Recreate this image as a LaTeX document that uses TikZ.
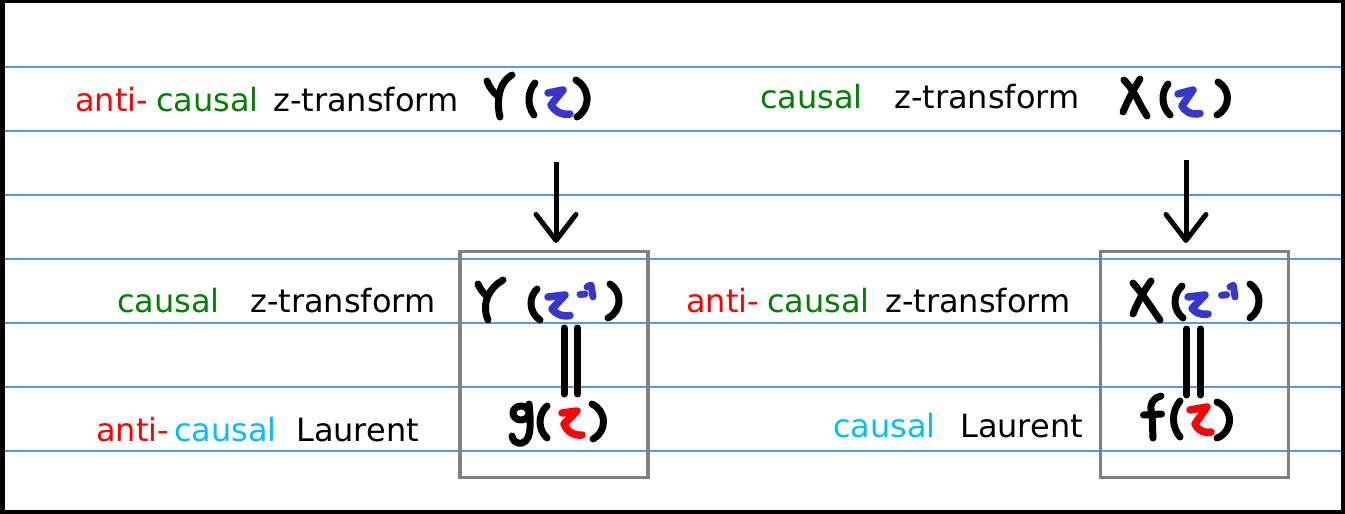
\documentclass[tikz,border=0pt]{standalone}
\usepackage{fontspec}
\newfontfamily\notefont{DejaVu Sans}
\usetikzlibrary{arrows.meta, hobby}

\definecolor{rulecol}{RGB}{90,150,230}
\definecolor{pengreen}{RGB}{0,128,0}
\definecolor{penred}{RGB}{255,0,0}
\definecolor{pencyan}{RGB}{0,190,255}
\definecolor{penblue}{RGB}{55,55,205}
\definecolor{boxgray}{RGB}{128,128,128}

\tikzset{
	word/.style={anchor=base west, inner sep=0pt, font=\notefont\fontsize{32}{38}\selectfont},
	pen/.style={line width=7pt, line cap=round, line join=round},
	zpen/.style={pen, line width=7.5pt},
	ruling/.style={rulecol, line width=1.4pt},
	sumbox/.style={draw=boxgray, line width=3.5pt, minimum width=187.7pt, minimum height=226pt, inner sep=0pt},
	penarrow/.style={line width=5pt, -{Straight Barb[length=26pt, width=40pt, round]}}
}

\begin{document}
\begin{tikzpicture}[x=1pt, y=-1pt]
				\useasboundingbox (0,0) rectangle (1345,514);
				\fill [black] (0,0) rectangle (1345,514);
				\fill [white] (5,3) rectangle (1341,510);
				\foreach \y in {67,131,...,451}
					\draw [ruling] (5,\y) -- (1341,\y);
				
				% left column
				\node [word, penred] (antiA) at (75,111) {anti-};
				\node [word, pengreen] (causA) at (156,111) {causal};
				\node [word] (ztA) at (273,111) {z-transform};
				
				\node [word, pengreen] (causC) at (117,312) {causal};
				\node [word] (ztC) at (250,312) {z-transform};
				
				\node [word, penred] (antiE) at (96,441) {anti-};
				\node [word, pencyan] (causE) at (174,441) {causal};
				\node [word] (laurE) at (296,441) {Laurent};
				
				% right column
				\node [word, pengreen] (causB) at (760,108) {causal};
				\node [word] (ztB) at (894,108) {z-transform};
				
				\node [word, penred] (antiD) at (686,312) {anti-};
				\node [word, pengreen] (causD) at (767,312) {causal};
				\node [word] (ztD) at (885,312) {z-transform};
				
				\node [word, pencyan] (causF) at (833,437) {causal};
				\node [word] (laurF) at (960,437) {Laurent};
				
				\node [sumbox] (boxL) at (553.9,364.7) {};
				\node [sumbox] (boxR) at (1194.5,364.7) {};
				
				% Y(z)
				\draw [pen] (487,81) to [curve through={(492,90)}] (498,96);
				\draw [pen] (512,75) to [curve through={(503,84) .. (499,96)}] (500,117);
				\draw [pen] (535,83) to [curve through={(529,98)}] (534,115);
				\draw [zpen, penblue] (548,93) -- (563,90) -- (551,105) to [curve through={(558,112)}] (570,114);
				\draw [pen] (576,80) to [curve through={(587,97)}] (577,117);
				
				\coordinate (arrL) at (556,162);
				\draw [penarrow] (arrL) -- ([yshift=7pt]arrL |- boxL.north);
				
				% Y(z^-1)
				\draw [pen] (478,284) to [curve through={(482,291)}] (487,296);
				\draw [pen] (503,280) to [curve through={(494,287) .. (488,296)}] (488,320);
				\draw [pen] (537,289) to [curve through={(531,304)}] (540,320);
				\draw [zpen, penblue] (548,297) -- (565,295) -- (552,309) to [curve through={(558,314)}] (570,315.5);
				\draw [pen, penblue] (580,294.5) -- (585,294);
				\draw [pen, penblue] (587,287) -- (591,285) -- (593,297);
				\draw [pen] (610,284) to [curve through={(619,300)}] (608,318);
				
				\draw [pen] (564,328) -- (564,394);
				\draw [pen] (577.5,328) -- (577.5,394);
				
				% g(z)
				\draw [pen] (521,413) ellipse [x radius=8, y radius=7];
				\draw [pen] (529,404) to [curve through={(530,428) .. (522,443)}] (512,436);
				\draw [pen] (547,406) to [curve through={(540,422)}] (547,438);
				\draw [zpen, penred] (562,413) -- (577,411) -- (564,424) to [curve through={(570,432)}] (582,435);
				\draw [pen] (592,404) to [curve through={(603.5,422)}] (593,439);
				
				% X(z)
				\draw [pen] (1124,80) to [curve through={(1134,93) .. (1141,106)}] (1147,116);
				\draw [pen] (1140,79) to [curve through={(1132,93)}] (1123,112);
				\draw [pen] (1168,84) to [curve through={(1163,100)}] (1170,115);
				\draw [zpen, penblue] (1178,94) -- (1193,90) -- (1182,106) to [curve through={(1188,112)}] (1200,113.5);
				\draw [pen] (1218,82) to [curve through={(1227.5,98)}] (1217,115);
				
				\coordinate (arrR) at (1186,160);
				\draw [penarrow] (arrR) -- ([yshift=7pt]arrR |- boxR.north);
				
				% X(z^-1)
				\draw [pen] (1133,283) to [curve through={(1144,297) .. (1153,310)}] (1160,320);
				\draw [pen] (1151,281) to [curve through={(1142,295)}] (1133,314);
				\draw [pen] (1182,286) to [curve through={(1175,302)}] (1183,318);
				\draw [zpen, penblue] (1188,297) -- (1205,295) -- (1192,308.5) to [curve through={(1198,313)}] (1208,314);
				\draw [pen, penblue] (1221.5,295.3) -- (1226.7,294.7);
				\draw [pen, penblue] (1230,287) -- (1233.3,285.3) -- (1235,297);
				\draw [pen] (1250,284) to [curve through={(1259,300)}] (1250,318);
				
				\draw [pen] (1186.7,329) -- (1186.7,395);
				\draw [pen] (1200.7,329) -- (1200.7,395);
				
				% f(z)
				\draw [pen] (1161,396) to [curve through={(1153,401)}] (1152,413) -- (1153,438);
				\draw [pen] (1143.5,415) -- (1161.5,414);
				\draw [pen] (1180,401) to [curve through={(1173.5,420)}] (1180,437);
				\draw [zpen, penred] (1190,410) -- (1207,407) -- (1195,424) to [curve through={(1200,430)}] (1211,432);
				\draw [pen] (1217,402) to [curve through={(1229.5,420)}] (1217,438);
\end{tikzpicture}
\end{document}
